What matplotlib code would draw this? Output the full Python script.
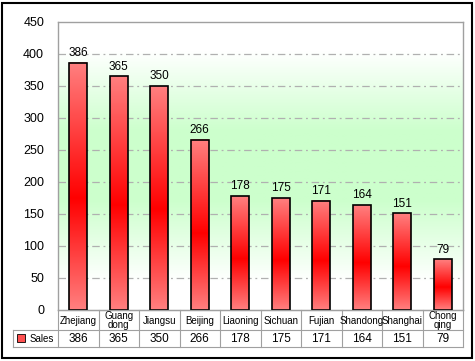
import numpy as np
import matplotlib
matplotlib.use("Agg")
import matplotlib.pyplot as plt
from matplotlib.colors import LinearSegmentedColormap
from matplotlib.patches import Rectangle
from matplotlib.lines import Line2D

# data
categories = ["Zhejiang", "Guang\ndong", "Jiangsu", "Beijing", "Liaoning",
              "Sichuan", "Fujian", "Shandong", "Shanghai", "Chong\nqing"]
sales = [386, 365, 350, 266, 178, 175, 171, 164, 151, 79]
series_name = "Sales"
yticks = list(range(0, 451, 50))

W, H = 475, 361
plt.rcParams['font.family'] = ['Liberation Sans', 'DejaVu Sans']

fig = plt.figure(figsize=(W / 100, H / 100), dpi=100)

# plot area in pixels
px0, px1, py_top, py_bot = 58, 463, 22, 310

def fx(x):
    return x / W

def fy(y):
    return 1 - y / H

ax = fig.add_axes([fx(px0), fy(py_bot), (px1 - px0) / W, (py_bot - py_top) / H])
n = len(categories)

# background gradient (white -> green -> white)
bg = LinearSegmentedColormap.from_list("bg", [(0, "#ffffff"), (0.1, "#ffffff"),
                                              (0.38, "#ccffcc"), (0.62, "#ccffcc"),
                                              (0.9, "#ffffff"), (1, "#ffffff")])
grad = np.linspace(0, 1, 256).reshape(-1, 1)
ax.imshow(grad, cmap=bg, aspect="auto", extent=[-0.5, n - 0.5, 450, 0],
          zorder=0, origin="upper")

# grid lines
for t in yticks[1:-1]:
    ax.axhline(t, color="#b0b0b0", lw=0.9, dashes=(6, 3, 1.5, 3), zorder=1)

# bars with vertical gradient
barcm = LinearSegmentedColormap.from_list("bar", [(0, "#ff8080"), (0.45, "#ff0000"),
                                                  (1, "#ff8080")])
bw = 0.44
bars = ax.bar(range(n), sales, width=bw, facecolor="none", edgecolor="black",
              lw=1.2, zorder=4)
for i, b in enumerate(bars):
    h = b.get_height()
    ax.imshow(grad, cmap=barcm, aspect="auto", origin="lower",
              extent=[i - bw / 2, i + bw / 2, 0, h], zorder=3)
    ax.text(i, h + 6, str(h), ha="center", va="bottom", fontsize=8.5, zorder=5)

ax.set_xlim(-0.5, n - 0.5)
ax.set_ylim(0, 450)
ax.set_xticks([])
ax.set_yticks(yticks)
ax.set_yticklabels([str(t) for t in yticks], fontsize=9)
ax.tick_params(axis="y", length=0, pad=10)
for s in ax.spines.values():
    s.set_color("#a0a0a0")
    s.set_linewidth(1)

# data table
grid_c = "#a0a0a0"
row1_top, row1_bot, row2_bot = 310, 330, 347
tab_left = 13
cw = (px1 - px0) / n

def hline(x0, x1, y):
    fig.add_artist(Line2D([fx(x0), fx(x1)], [fy(y), fy(y)], color=grid_c, lw=0.8))

def vline(x, y0, y1):
    fig.add_artist(Line2D([fx(x), fx(x)], [fy(y0), fy(y1)], color=grid_c, lw=0.8))

hline(px0, px1, row1_top)
hline(tab_left, px1, row1_bot)
hline(tab_left, px1, row2_bot)
vline(tab_left, row1_bot, row2_bot)
for i in range(n + 1):
    vline(px0 + i * cw, row1_top, row2_bot)
for i, (c, v) in enumerate(zip(categories, sales)):
    cx = px0 + (i + 0.5) * cw
    fig.text(fx(cx), fy((row1_top + row1_bot) / 2 + 0.5), c, ha="center", va="center",
             fontsize=7, linespacing=0.95)
    fig.text(fx(cx), fy((row1_bot + row2_bot) / 2), str(v), ha="center", va="center",
             fontsize=8.5)
fig.add_artist(Rectangle((fx(17), fy(342)), 8 / W, 8 / H, facecolor="#ff5050",
                         edgecolor="black", lw=0.6))
fig.text(fx(30), fy(338.5), series_name, ha="left", va="center", fontsize=7)

# outer frame
fig.add_artist(Rectangle((fx(2), fy(358)), 470 / W, 355 / H, facecolor="none",
                         edgecolor="black", lw=1.5))

fig.savefig("out.png", dpi=100)
